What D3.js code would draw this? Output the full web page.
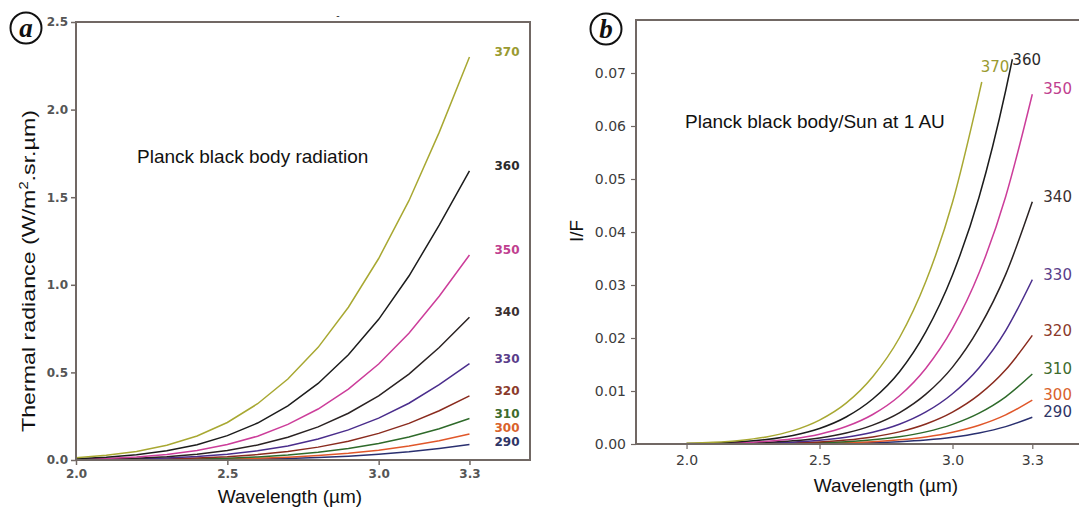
<!DOCTYPE html>
<html><head><meta charset="utf-8">
<script src="https://cdn.jsdelivr.net/npm/d3@7"></script>
<style>body{margin:0;background:#fff}svg{display:block}</style>
</head><body><svg id="c" width="1079" height="510"></svg>
<script>
// ---------- data ----------
const wavelengths = [2.0,2.1,2.2,2.3,2.4,2.5,2.6,2.7,2.8,2.9,3.0,3.1,3.2,3.3];
const temperatures = [290,300,310,320,330,340,350,360,370];

// Panel a: thermal radiance (W/m2.sr.um) at each wavelength
const radiance290 = [0.00006,0.00016,0.00037,0.00079,0.00157,0.00293,0.00518,0.00868,0.0140,0.0216,0.0322,0.0466,0.0656,0.0880];
const radiance300 = [0.00014,0.00035,0.00079,0.00163,0.00314,0.00569,0.00977,0.0160,0.0252,0.0382,0.0559,0.0794,0.110,0.149];
const radiance310 = [0.00031,0.00074,0.00159,0.00319,0.00597,0.0106,0.0177,0.0284,0.0438,0.0651,0.0936,0.131,0.178,0.237];
const radiance320 = [0.00064,0.00147,0.00307,0.00599,0.0109,0.0189,0.0310,0.0486,0.0735,0.107,0.152,0.209,0.281,0.366];
const radiance330 = [0.00127,0.00281,0.00571,0.0108,0.0193,0.0325,0.0523,0.0805,0.120,0.172,0.239,0.324,0.430,0.550];
const radiance340 = [0.00241,0.00517,0.0102,0.0189,0.0329,0.0543,0.0856,0.130,0.189,0.267,0.366,0.490,0.642,0.815];
const radiance350 = [0.00441,0.00919,0.0177,0.0320,0.0544,0.0880,0.136,0.203,0.291,0.405,0.548,0.724,0.935,1.17];
const radiance360 = [0.0078,0.0158,0.0298,0.0526,0.0876,0.139,0.211,0.309,0.437,0.601,0.803,1.05,1.34,1.65];
const radiance370 = [0.0134,0.0265,0.0487,0.0841,0.137,0.214,0.321,0.462,0.643,0.872,1.15,1.48,1.87,2.30];

// Panel b: I/F as [wavelength, value]
const ratio290 = [[2.0,0.0000006],[2.1,0.0000019],[2.2,0.0000051],[2.3,0.0000126],[2.4,0.0000288],[2.5,0.0000617],[2.6,0.000125],[2.7,0.000238],[2.8,0.000435],[2.9,0.00076],[3.0,0.00128],[3.1,0.00208],[3.2,0.00328],[3.3,0.00505]];
const ratio300 = [[2.0,0.0000014],[2.1,0.0000041],[2.2,0.0000108],[2.3,0.0000258],[2.4,0.0000575],[2.5,0.00012],[2.6,0.000236],[2.7,0.00044],[2.8,0.000784],[2.9,0.00134],[3.0,0.00222],[3.1,0.00354],[3.2,0.00549],[3.3,0.00827]];
const ratio310 = [[2.0,0.0000031],[2.1,0.0000086],[2.2,0.0000218],[2.3,0.0000506],[2.4,0.000109],[2.5,0.000222],[2.6,0.000427],[2.7,0.00078],[2.8,0.00136],[2.9,0.00229],[3.0,0.00371],[3.1,0.00583],[3.2,0.0089],[3.3,0.0132]];
const ratio320 = [[2.0,0.0000064],[2.1,0.0000172],[2.2,0.0000421],[2.3,0.0000951],[2.4,0.0002],[2.5,0.000397],[2.6,0.000746],[2.7,0.00134],[2.8,0.00229],[2.9,0.00378],[3.0,0.00602],[3.1,0.00931],[3.2,0.014],[3.3,0.0205]];
const ratio330 = [[2.0,0.0000127],[2.1,0.0000329],[2.2,0.0000782],[2.3,0.000172],[2.4,0.000353],[2.5,0.000685],[2.6,0.00126],[2.7,0.00221],[2.8,0.00372],[2.9,0.00605],[3.0,0.00949],[3.1,0.0144],[3.2,0.0214],[3.3,0.031]];
const ratio340 = [[2.0,0.0000241],[2.1,0.0000606],[2.2,0.00014],[2.3,0.0003],[2.4,0.000602],[2.5,0.00114],[2.6,0.00206],[2.7,0.00356],[2.8,0.00588],[2.9,0.0094],[3.0,0.0145],[3.1,0.0219],[3.2,0.032],[3.3,0.0457]];
const ratio350 = [[2.0,0.0000441],[2.1,0.000108],[2.2,0.000243],[2.3,0.000508],[2.4,0.000997],[2.5,0.00185],[2.6,0.00329],[2.7,0.00557],[2.8,0.00906],[2.9,0.0143],[3.0,0.0218],[3.1,0.0323],[3.2,0.0467],[3.3,0.066]];
const ratio360 = [[2.0,0.0000779],[2.1,0.000186],[2.2,0.000407],[2.3,0.000834],[2.4,0.00161],[2.5,0.00293],[2.6,0.0051],[2.7,0.00849],[2.8,0.0136],[2.9,0.0212],[3.0,0.0319],[3.1,0.0466],[3.2,0.0667],[3.225,0.0726]];
const ratio370 = [[2.0,0.000134],[2.1,0.00031],[2.2,0.000666],[2.3,0.00134],[2.4,0.00252],[2.5,0.00452],[2.6,0.00772],[2.7,0.0127],[2.8,0.02],[2.9,0.0307],[3.0,0.0456],[3.1,0.0661],[3.11,0.0683]];

const radianceTicksX = [2.0,2.5,3.0,3.3];
const radianceTicksY = [0,0.5,1.0,1.5,2.0,2.5];
const ratioTicksX = [2.0,2.5,3.0,3.3];
const ratioTicksY = [0,0.01,0.02,0.03,0.04,0.05,0.06,0.07];

// ---------- styles ----------
const lineColors  = ["#2a3070","#e0572a","#2e6a2a","#8a2b1e","#4a2d8c","#2a2222","#cc3d9a","#1c1c1c","#a8a832"];
const labelColors = ["#2f3566","#d9622b","#3d6b2d","#8b3a2a","#5a3d8a","#3b3030","#c0408f","#2b2b2b","#9a9a30"];
const frameColor = "#716864";

const radianceSeries = [radiance290,radiance300,radiance310,radiance320,radiance330,radiance340,radiance350,radiance360,radiance370];
const ratioSeries = [ratio290,ratio300,ratio310,ratio320,ratio330,ratio340,ratio350,ratio360,ratio370];

const svg = d3.select("#c");
const sans = "'Liberation Sans', Arial, sans-serif";
const dv = "'DejaVu Sans', sans-serif";

// ================= Panel a =================
const xA = d3.scaleLinear().domain([2.0,3.5]).range([76,530]);
const yA = d3.scaleLinear().domain([0,2.5]).range([460,22]);
const gA = svg.append("g");

const axA_y = gA.append("g").attr("transform","translate(76,0)")
  .call(d3.axisLeft(yA).tickValues(radianceTicksY).tickFormat(d3.format(".1f")).tickSize(5).tickPadding(3));
const axA_x = gA.append("g").attr("transform","translate(0,460)")
  .call(d3.axisBottom(xA).tickValues(radianceTicksX).tickFormat(d3.format(".1f")).tickSize(5).tickPadding(4));
[axA_y,axA_x].forEach(a=>{
  a.select(".domain").remove();
  a.selectAll(".tick line").attr("stroke",frameColor).attr("stroke-width",1.5);
  a.selectAll(".tick text").attr("fill","#555").style("font-family",dv).style("font-weight","bold").style("font-size","12px");
});

const lineA = d3.line().x((d,i)=>xA(wavelengths[i])).y(d=>yA(d));
radianceSeries.forEach((s,k)=>{
  gA.append("path").attr("d",lineA(s)).attr("fill","none")
    .attr("stroke",lineColors[k]).attr("stroke-width",1.5);
  const off = temperatures[k]===290 ? -3 : (temperatures[k]===300 ? -6 : -5);
  gA.append("text").attr("x",xA(3.3)+25).attr("y",yA(s[s.length-1])+off)
    .attr("dy","0.35em").attr("fill",labelColors[k])
    .style("font-family",dv).style("font-weight","bold").style("font-size","12px")
    .text(temperatures[k]);
});
gA.append("rect").attr("x",76).attr("y",22).attr("width",454).attr("height",438)
  .attr("fill","none").attr("stroke",frameColor).attr("stroke-width",2);

gA.append("text").attr("x",137).attr("y",163).style("font-family",sans).style("font-size","19px")
  .attr("fill","#111").text("Planck black body radiation");
gA.append("text").attr("x",290).attr("y",503).attr("text-anchor","middle").style("font-family",sans)
  .style("font-size","19px").attr("fill","#111").text("Wavelength (\u00b5m)");
const yt = gA.append("text").attr("transform","translate(35,271) rotate(-90)").attr("text-anchor","middle")
  .style("font-family",sans).style("font-size","19px").attr("fill","#111")
  .attr("textLength",322).attr("lengthAdjust","spacingAndGlyphs");
yt.append("tspan").text("Thermal radiance (W/m");
yt.append("tspan").attr("dy",-7).style("font-size","12px").text("2");
yt.append("tspan").attr("dy",7).text(".sr.\u00b5m)");
gA.append("text").attr("x",338).attr("y",19).attr("text-anchor","middle").style("font-family",sans)
  .style("font-size","10px").attr("fill","#333").text("-");

// ================= Panel b =================
const xB = d3.scaleLinear().domain([1.81,3.5]).range([636,1085.5]);
const yB = d3.scaleLinear().domain([0,0.08]).range([444,20]);
const gB = svg.append("g");

const axB_y = gB.append("g").attr("transform","translate(636,0)")
  .call(d3.axisLeft(yB).tickValues(ratioTicksY).tickFormat(d3.format(".2f")).tickSize(5).tickPadding(5));
const axB_x = gB.append("g").attr("transform","translate(0,444)")
  .call(d3.axisBottom(xB).tickValues(ratioTicksX).tickFormat(d3.format(".1f")).tickSize(5).tickPadding(6));
[axB_y,axB_x].forEach(a=>{
  a.select(".domain").remove();
  a.selectAll(".tick line").attr("stroke",frameColor).attr("stroke-width",1.2);
  a.selectAll(".tick text").attr("fill","#3c3c3c").style("font-family",dv).style("font-size","14px");
});

const lineB = d3.line().x(d=>xB(d[0])).y(d=>yB(d[1])).curve(d3.curveMonotoneX);
ratioSeries.forEach((s,k)=>{
  gB.append("path").attr("d",lineB(s)).attr("fill","none")
    .attr("stroke",lineColors[k]).attr("stroke-width",1.5);
  const e = s[s.length-1];
  let lx = xB(e[0])+11, ly = yB(e[1])-5;
  if (temperatures[k]===370){ lx = xB(e[0])-1; ly = yB(e[1])-15; }
  if (temperatures[k]===360){ lx = xB(e[0]); ly = yB(e[1])+1; }
  gB.append("text").attr("x",lx).attr("y",ly).attr("dy","0.35em").attr("fill",labelColors[k])
    .style("font-family",dv).style("font-size","15px").text(temperatures[k]);
});
gB.append("path").attr("d",`M1085,20H636V444H1085`).attr("fill","none")
  .attr("stroke",frameColor).attr("stroke-width",2);

gB.append("text").attr("x",685).attr("y",128).style("font-family",sans).style("font-size","19px")
  .attr("fill","#111").text("Planck black body/Sun at 1 AU");
gB.append("text").attr("x",886).attr("y",492).attr("text-anchor","middle").style("font-family",sans)
  .style("font-size","19px").attr("fill","#111").text("Wavelength (\u00b5m)");
gB.append("text").attr("transform","translate(583,231) rotate(-90)").attr("text-anchor","middle")
  .style("font-family",sans).style("font-size","19px").attr("fill","#111").text("I/F");

// ---------- panel letters ----------
[["a",26,28],["b",606,29]].forEach(([t,cx,cy])=>{
  svg.append("circle").attr("cx",cx).attr("cy",cy).attr("r",15.5).attr("fill","#fff")
    .attr("stroke","#111").attr("stroke-width",2);
  svg.append("text").attr("x",cx).attr("y",cy).attr("dy","0.33em").attr("text-anchor","middle")
    .style("font-family","'Liberation Serif', 'DejaVu Serif', serif").style("font-style","italic")
    .style("font-weight","bold").style("font-size","27px").attr("fill","#111").text(t);
});
</script></body></html>
